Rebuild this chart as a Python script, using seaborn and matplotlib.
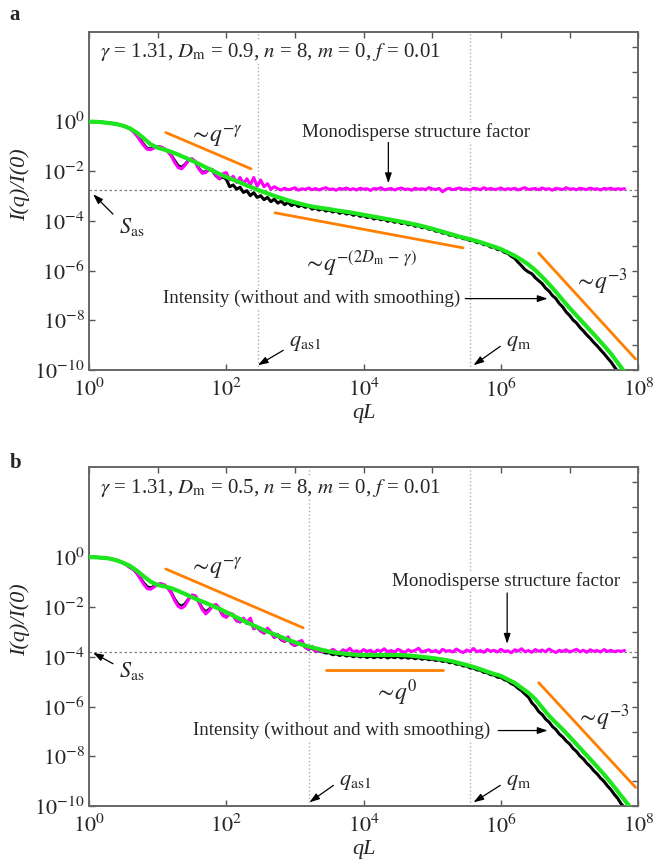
import numpy as np
import pandas as pd
import matplotlib
matplotlib.use("Agg")
import matplotlib.pyplot as plt
from matplotlib.ticker import FixedLocator, NullFormatter
import seaborn as sns

# log10(qL) sample positions
lq_fine = [0.00, 0.05, 0.10, 0.15, 0.20, 0.25, 0.30, 0.35, 0.40, 0.45,
           0.50, 0.55, 0.60, 0.65, 0.70, 0.75, 0.80, 0.85, 0.90, 0.95,
           1.00, 1.05, 1.10, 1.15, 1.20, 1.25, 1.30, 1.35, 1.40, 1.45,
           1.50, 1.55, 1.60, 1.65, 1.70, 1.75, 1.80, 1.85, 1.90, 1.95,
           2.00, 2.05, 2.10, 2.15, 2.20, 2.25, 2.30, 2.35, 2.40, 2.45,
           2.50, 2.55, 2.60, 2.65, 2.70, 2.75, 2.80, 2.85, 2.90, 2.95,
           3.00, 3.05, 3.10, 3.15, 3.20, 3.25, 3.30, 3.35, 3.40, 3.45,
           3.50, 3.55, 3.60, 3.65, 3.70, 3.75, 3.80, 3.85, 3.90, 3.95,
           4.00, 4.05, 4.10, 4.15, 4.20, 4.25, 4.30, 4.35, 4.40, 4.45,
           4.50, 4.55, 4.60, 4.65, 4.70, 4.75, 4.80, 4.85, 4.90, 4.95,
           5.00, 5.05, 5.10, 5.15, 5.20, 5.25, 5.30, 5.35, 5.40, 5.45,
           5.50, 5.55, 5.60, 5.65, 5.70, 5.75, 5.80, 5.85, 5.90, 5.95,
           6.00, 6.05, 6.10, 6.15, 6.20, 6.25, 6.30, 6.35, 6.40, 6.45,
           6.50, 6.55, 6.60, 6.65, 6.70, 6.75, 6.80, 6.85, 6.90, 6.95,
           7.00, 7.05, 7.10, 7.15, 7.20, 7.25, 7.30, 7.35, 7.40, 7.45,
           7.50, 7.55, 7.60, 7.65, 7.70, 7.75, 7.80, 7.85, 7.90, 7.95]

lq_coarse = [0.0, 0.1, 0.2, 0.3, 0.4, 0.5, 0.6, 0.7, 0.8, 0.9,
             1.0, 1.1, 1.2, 1.3, 1.4, 1.5, 1.6, 1.7, 1.8, 1.9,
             2.0, 2.1, 2.2, 2.3, 2.4, 2.5, 2.6, 2.7, 2.8, 2.9,
             3.0, 3.1, 3.2, 3.3, 3.4, 3.5, 3.6, 3.7, 3.8, 3.9,
             4.0, 4.1, 4.2, 4.3, 4.4, 4.5, 4.6, 4.7, 4.8, 4.9,
             5.0, 5.1, 5.2, 5.3, 5.4, 5.5, 5.6, 5.7, 5.8, 5.9,
             6.0, 6.1, 6.2, 6.3, 6.4, 6.5, 6.6, 6.7, 6.8, 6.9,
             7.0, 7.1, 7.2, 7.3, 7.4, 7.5, 7.6, 7.7, 7.8, 7.9]

# ---- panel a : log10 I(q)/I(0) ----
a_raw = [0.00, -0.005, -0.01, -0.02, -0.03, -0.045, -0.06, -0.08, -0.10, -0.13,
         -0.17, -0.22, -0.28, -0.40, -0.55, -0.74, -0.93, -1.08, -1.10, -1.04,
         -1.01, -1.04, -1.11, -1.20, -1.36, -1.58, -1.78, -1.84, -1.72, -1.56,
         -1.53, -1.64, -1.88, -2.04, -2.02, -1.92, -1.98, -2.18, -2.30, -2.22,
         -2.32, -2.62, -2.55, -2.72, -2.64, -2.85, -2.78, -2.98, -2.86, -3.05,
         -2.98, -3.14, -3.05, -3.22, -3.12, -3.28, -3.20, -3.34, -3.25, -3.38,
         -3.30, -3.42, -3.36, -3.45, -3.40, -3.52, -3.47, -3.56, -3.50, -3.60,
         -3.55, -3.64, -3.58, -3.69, -3.63, -3.72, -3.68, -3.77, -3.72, -3.81,
         -3.78, -3.86, -3.82, -3.92, -3.87, -3.95, -3.92, -4.01, -3.97, -4.05,
         -4.01, -4.10, -4.06, -4.15, -4.12, -4.21, -4.18, -4.27, -4.25, -4.33,
         -4.32, -4.41, -4.40, -4.49, -4.47, -4.57, -4.56, -4.64, -4.63, -4.71,
         -4.72, -4.79, -4.78, -4.87, -4.86, -4.95, -4.95, -5.05, -5.04, -5.15,
         -5.15, -5.26, -5.30, -5.42, -5.50, -5.66, -5.80, -5.95, -6.05, -6.12,
         -6.28, -6.40, -6.52, -6.70, -6.82, -7.00, -7.12, -7.32, -7.46, -7.66,
         -7.80, -7.98, -8.10, -8.28, -8.42, -8.58, -8.72, -8.88, -9.02, -9.18,
         -9.33, -9.50, -9.66, -9.86, -10.05, -10.25, -10.45, -10.65, -10.85, -11.0]

a_mono = [0.00, 0.00, -0.01, -0.02, -0.03, -0.045, -0.06, -0.08, -0.10, -0.13,
          -0.17, -0.22, -0.30, -0.42, -0.58, -0.78, -0.97, -1.12, -1.13, -1.06,
          -1.01, -1.02, -1.09, -1.20, -1.38, -1.65, -1.85, -1.90, -1.75, -1.55,
          -1.49, -1.60, -1.90, -2.08, -2.05, -1.90, -1.93, -2.15, -2.30, -2.10,
          -2.05, -2.35, -2.20, -2.45, -2.25, -2.50, -2.30, -2.55, -2.25, -2.60,
          -2.35, -2.62, -2.50, -2.72, -2.62,
          -2.70, -2.75, -2.68, -2.74, -2.71, -2.66, -2.76, -2.70, -2.73, -2.67,
          -2.74, -2.69, -2.75, -2.70, -2.66, -2.73, -2.71, -2.76, -2.69, -2.72,
          -2.67, -2.74, -2.70, -2.75, -2.68, -2.72, -2.70, -2.77, -2.69, -2.71,
          -2.66, -2.74, -2.72, -2.69, -2.75, -2.70, -2.67, -2.73, -2.71, -2.76,
          -2.68, -2.72, -2.70, -2.74, -2.66, -2.71, -2.73, -2.69, -2.82, -2.72,
          -2.68, -2.74, -2.70, -2.67, -2.73, -2.71, -2.75, -2.68, -2.70, -2.74,
          -2.66, -2.72, -2.69, -2.73, -2.71, -2.67, -2.74, -2.70, -2.72, -2.68,
          -2.75, -2.70, -2.66, -2.73, -2.71, -2.69, -2.74, -2.67, -2.72, -2.70,
          -2.76, -2.68, -2.71, -2.73, -2.66, -2.72, -2.70, -2.74, -2.68, -2.71,
          -2.73, -2.67, -2.72, -2.70, -2.75, -2.69, -2.71, -2.68, -2.73, -2.70,
          -2.72, -2.70, np.nan, np.nan, np.nan]

a_smooth = [0.00, -0.01, -0.03, -0.06, -0.10, -0.17, -0.28, -0.45, -0.68, -0.92,
            -1.05, -1.13, -1.22, -1.33, -1.45, -1.57, -1.70, -1.84, -1.97, -2.11,
            -2.23, -2.34, -2.45, -2.57, -2.68, -2.79, -2.89, -2.99, -3.08, -3.17,
            -3.25, -3.32, -3.39, -3.44, -3.48, -3.52, -3.57, -3.61, -3.65, -3.70,
            -3.75, -3.80, -3.85, -3.90, -3.95, -4.00, -4.05, -4.11, -4.17, -4.24,
            -4.31, -4.39, -4.47, -4.55, -4.63, -4.70, -4.77, -4.85, -4.94, -5.03,
            -5.13, -5.26, -5.40, -5.56, -5.75, -5.98, -6.25, -6.54, -6.85, -7.18,
            -7.50, -7.80, -8.10, -8.40, -8.70, -9.01, -9.33, -9.70, -10.08, -10.45]

# ---- panel b ----
b_raw = [0.00, -0.005, -0.01, -0.02, -0.03, -0.045, -0.06, -0.09, -0.13, -0.18,
         -0.24, -0.32, -0.42, -0.50, -0.65, -0.85, -1.05, -1.20, -1.24, -1.17,
         -1.10, -1.08, -1.13, -1.24, -1.43, -1.70, -1.90, -1.97, -1.88, -1.68,
         -1.55, -1.58, -1.80, -2.06, -2.20, -2.10, -1.96, -1.95, -2.08, -2.33,
         -2.40, -2.28, -2.34, -2.55, -2.60, -2.50, -2.66, -2.55, -2.86, -2.82,
         -2.96, -3.05, -2.92, -3.04, -3.22, -3.14, -3.32, -3.38, -3.28, -3.47,
         -3.55, -3.46, -3.45, -3.62, -3.70, -3.64, -3.78, -3.76,
         -3.80, -3.85, -3.84, -3.92, -3.88, -3.95, -3.90, -3.97, -3.93, -4.00,
         -3.95, -4.01, -3.96, -4.03, -3.97, -4.04, -3.98, -4.03, -3.97, -4.05,
         -3.99, -4.04, -3.98, -4.05, -4.00, -4.06, -4.01, -4.08, -4.03, -4.10,
         -4.06, -4.12, -4.09, -4.15, -4.12, -4.19, -4.16, -4.24, -4.22, -4.30,
         -4.29, -4.37, -4.36, -4.45, -4.45, -4.53, -4.54, -4.63, -4.64, -4.72,
         -4.73, -4.82, -4.83, -4.92, -4.97, -5.08, -5.14, -5.27, -5.36, -5.50,
         -5.62, -5.85, -6.00, -6.20, -6.32, -6.50, -6.62, -6.80, -6.92, -7.10,
         -7.22, -7.38, -7.50, -7.68, -7.80, -7.98, -8.10, -8.27, -8.40, -8.57,
         -8.70, -8.87, -9.00, -9.18, -9.33, -9.52, -9.68, -9.90, -10.05, -10.25,
         -10.45, -10.65]

b_mono = [0.00, -0.005, -0.01, -0.02, -0.03, -0.045, -0.06, -0.09, -0.13, -0.18,
          -0.24, -0.32, -0.42, -0.50, -0.66, -0.88, -1.10, -1.27, -1.29, -1.20,
          -1.10, -1.07, -1.12, -1.24, -1.45, -1.75, -1.98, -2.05, -1.95, -1.70,
          -1.52, -1.55, -1.80, -2.10, -2.28, -2.15, -1.95, -1.90, -2.05, -2.35,
          -2.42, -2.25, -2.30, -2.55, -2.60, -2.45, -2.62, -2.45, -2.88, -2.80,
          -2.95, -3.05, -2.85, -3.00, -3.22, -3.10, -3.30, -3.38, -3.20, -3.45,
          -3.55, -3.40, -3.35, -3.62, -3.70, -3.58, -3.78, -3.72,
          -3.80, -3.74, -3.82, -3.70, -3.79, -3.84, -3.72, -3.78, -3.66, -3.81,
          -3.76, -3.83, -3.71, -3.79, -3.74, -3.85, -3.73, -3.78, -3.68, -3.80,
          -3.75, -3.82, -3.70, -3.77, -3.83, -3.72, -3.79, -3.74, -3.66, -3.81,
          -3.76, -3.72, -3.80, -3.74, -3.84, -3.70, -3.78, -3.75, -3.81, -3.69,
          -3.77, -3.83, -3.73, -3.79, -3.67, -3.80, -3.75, -3.82, -3.71, -3.78,
          -3.74, -3.81, -3.70, -3.79, -3.76, -3.84, -3.72, -3.77, -3.68, -3.80,
          -3.75, -3.82, -3.71, -3.78, -3.73, -3.80, -3.69, -3.77, -3.83, -3.74,
          -3.79, -3.72, -3.81, -3.76, -3.70, -3.80, -3.74, -3.82, -3.72, -3.78,
          -3.75, -3.81, -3.71, -3.79, -3.74, -3.80, -3.76, -3.78, -3.75,
          np.nan, np.nan, np.nan]

b_smooth = [0.00, -0.01, -0.03, -0.06, -0.13, -0.23, -0.36, -0.55, -0.78, -0.99,
            -1.12, -1.18, -1.25, -1.36, -1.48, -1.61, -1.73, -1.84, -1.96, -2.08,
            -2.21, -2.35, -2.49, -2.62, -2.75, -2.87, -2.99, -3.10, -3.21, -3.32,
            -3.42, -3.51, -3.59, -3.66, -3.73, -3.79, -3.84, -3.87, -3.90, -3.92,
            -3.93, -3.93, -3.93, -3.93, -3.93, -3.93, -3.94, -3.96, -3.99, -4.02,
            -4.05, -4.09, -4.13, -4.19, -4.26, -4.33, -4.41, -4.50, -4.60, -4.69,
            -4.77, -4.91, -5.05, -5.25, -5.45, -5.70, -6.04, -6.37, -6.65, -6.92,
            -7.21, -7.51, -7.81, -8.11, -8.41, -8.72, -9.05, -9.40, -9.75, -10.10]

# power-law guide segments: (log q start, log q end, log I start, log I end)
a_guides = [(1.12, 2.36, -0.44, -1.90), (2.71, 5.45, -3.67, -5.08), (6.55, 7.96, -5.29, -9.55)]
b_guides = [(1.12, 3.12, -0.48, -2.84), (3.45, 5.16, -4.52, -4.52), (6.55, 7.96, -5.04, -9.24)]

a_sas, b_sas = -2.75, -3.80          # log10 S_as
a_marks = [2.46, 5.55]               # log10 q_as1, q_m
b_marks = [3.21, 5.55]

sns.set_style("ticks")
plt.rcParams['font.family'] = ['Liberation Serif', 'DejaVu Serif']
plt.rcParams['mathtext.fontset'] = 'stix'

BLACK, MAG, GREEN, ORANGE = '#000000', '#ff00ff', '#1ee61e', '#ff8000'
box = dict(facecolor='white', edgecolor='none', pad=0.5)


def frame(lq, lI):
    return pd.DataFrame({'q': np.power(10.0, lq), 'I': np.power(10.0, lI)})


def panel(ax, raw, mono, smooth, guides, sas, marks, params, txt):
    ax.set_xscale('log')
    ax.set_yscale('log')
    for m in marks:
        ax.axvline(10 ** m, color='#b0b0b0', ls=':', lw=1.0, zorder=0)
    ax.axhline(10 ** sas, color='#808080', ls=(0, (2, 2)), lw=0.9, zorder=0)
    sns.lineplot(data=frame(lq_fine, raw), x='q', y='I', color=BLACK, lw=2.2,
                 sort=False, estimator=None, ax=ax, zorder=2)
    sns.lineplot(data=frame(lq_fine, mono), x='q', y='I', color=MAG, lw=2.2,
                 sort=False, estimator=None, ax=ax, zorder=3)
    sns.lineplot(data=frame(lq_coarse, smooth), x='q', y='I', color=GREEN, lw=3.0,
                 sort=False, estimator=None, ax=ax, zorder=4)
    for x0, x1, y0, y1 in guides:
        sns.lineplot(data=frame([x0, x1], [y0, y1]), x='q', y='I', color=ORANGE,
                     lw=2.0, sort=False, estimator=None, ax=ax, zorder=3)

    ax.set_xlim(1, 1e8)
    ax.set_ylim(1e-10, 10 ** 3.6)
    ax.xaxis.set_major_locator(FixedLocator([10.0 ** k for k in range(0, 9, 2)]))
    ax.xaxis.set_minor_locator(FixedLocator([10.0 ** k for k in range(1, 8, 2)]))
    ax.yaxis.set_major_locator(FixedLocator([10.0 ** k for k in range(-10, 1, 2)]))
    ax.yaxis.set_minor_locator(FixedLocator([10.0 ** k for k in range(-9, 4, 2)] + [1e2]))
    ax.set_xticklabels([r'$10^{%d}$' % k for k in range(0, 9, 2)])
    ax.set_yticklabels([r'$10^{%d}$' % k for k in range(-10, 1, 2)])
    ax.xaxis.set_minor_formatter(NullFormatter())
    ax.yaxis.set_minor_formatter(NullFormatter())
    ax.tick_params(which='major', direction='in', length=4, width=1, color='#555555',
                   top=True, right=True, labelsize=16, pad=3)
    ax.tick_params(axis='x', which='major', pad=6)
    ax.tick_params(which='minor', direction='in', length=4, width=1, color='#555555',
                   top=True, right=True, bottom=False, left=False)
    for s in ax.spines.values():
        s.set_color('#666666')
        s.set_linewidth(1.4)
    ax.set_xlabel('qL', fontsize=16, fontstyle='italic')
    ax.set_ylabel('I(q)/I(0)', fontsize=16, fontstyle='italic')
    ax.xaxis.set_label_coords(0.5, -0.1)
    ax.yaxis.set_label_coords(-0.108, 0.55)

    ax.text(0.02, 0.94, params, transform=ax.transAxes, fontsize=15, va='center',
            ha='left', bbox=box, zorder=6)
    for s, (x, y), fs, boxed in txt['labels']:
        ax.text(10 ** x, 10 ** y, s, fontsize=fs, ha='center', va='center',
                bbox=box if boxed else None, zorder=6)
    for (x0, y0), (x1, y1) in txt['arrows']:
        ax.annotate('', xy=(10 ** x1, 10 ** y1), xytext=(10 ** x0, 10 ** y0),
                    arrowprops=dict(arrowstyle='-|>,head_length=0.6,head_width=0.2',
                                    color='black', lw=0.9, shrinkA=0, shrinkB=0),
                    zorder=7)


fig = plt.figure(figsize=(6.54, 8.67), dpi=100)
ax_a = fig.add_axes([0.136, 0.573, 0.840, 0.390])
ax_b = fig.add_axes([0.136, 0.070, 0.840, 0.391])

txt_a = {
    'labels': [(r'$\sim\!q^{-\gamma}$', (1.85, -0.60), 17, False),
               ('Monodisperse structure factor', (4.77, -0.44), 13.7, True),
               (r'$\sim\!q^{-(2D_{\rm m}\,-\,\gamma)}$', (3.95, -5.70), 17, False),
               ('Intensity (without and with smoothing)', (3.25, -7.12), 13.7, True),
               (r'$S_{\rm as}$', (0.63, -4.24), 16, False),
               (r'$q_{\rm as1}$', (3.15, -8.92), 16, False),
               (r'$q_{\rm m}$', (6.25, -8.92), 16, False),
               (r'$\sim\!q^{-3}$', (7.45, -6.44), 17, False)],
    'arrows': [((4.36, -0.84), (4.36, -2.48)),
               ((5.48, -7.12), (6.68, -7.12)),
               ((0.35, -3.72), (0.06, -2.92)),
               ((2.83, -9.20), (2.46, -9.80)),
               ((5.99, -9.04), (5.60, -9.80))],
}
txt_b = {
    'labels': [(r'$\sim\!q^{-\gamma}$', (1.85, -0.48), 17, False),
               ('Monodisperse structure factor', (6.08, -0.96), 13.7, True),
               (r'$\sim\!q^{0}$', (4.46, -5.44), 17, False),
               ('Intensity (without and with smoothing)', (3.68, -6.96), 13.7, True),
               (r'$S_{\rm as}$', (0.63, -4.56), 16, False),
               (r'$q_{\rm as1}$', (3.88, -9.04), 16, False),
               (r'$q_{\rm m}$', (6.25, -9.04), 16, False),
               (r'$\sim\!q^{-3}$', (7.49, -6.44), 17, False)],
    'arrows': [((6.09, -1.44), (6.09, -3.48)),
               ((5.96, -6.96), (6.68, -6.96)),
               ((0.35, -4.28), (0.06, -3.84)),
               ((3.56, -9.16), (3.21, -9.84)),
               ((5.99, -9.16), (5.60, -9.84))],
}

panel(ax_a, a_raw, a_mono, a_smooth, a_guides, a_sas, a_marks,
      r'$\gamma$ = 1.31, $D_{\rm m}$ = 0.9, $n$ = 8, $m$ = 0, $f$ = 0.01', txt_a)
panel(ax_b, b_raw, b_mono, b_smooth, b_guides, b_sas, b_marks,
      r'$\gamma$ = 1.31, $D_{\rm m}$ = 0.5, $n$ = 8, $m$ = 0, $f$ = 0.01', txt_b)

fig.text(0.015, 0.983, 'a', fontsize=15, fontweight='bold', va='center')
fig.text(0.015, 0.466, 'b', fontsize=15, fontweight='bold', va='center')

fig.savefig('out.png', dpi=100)
